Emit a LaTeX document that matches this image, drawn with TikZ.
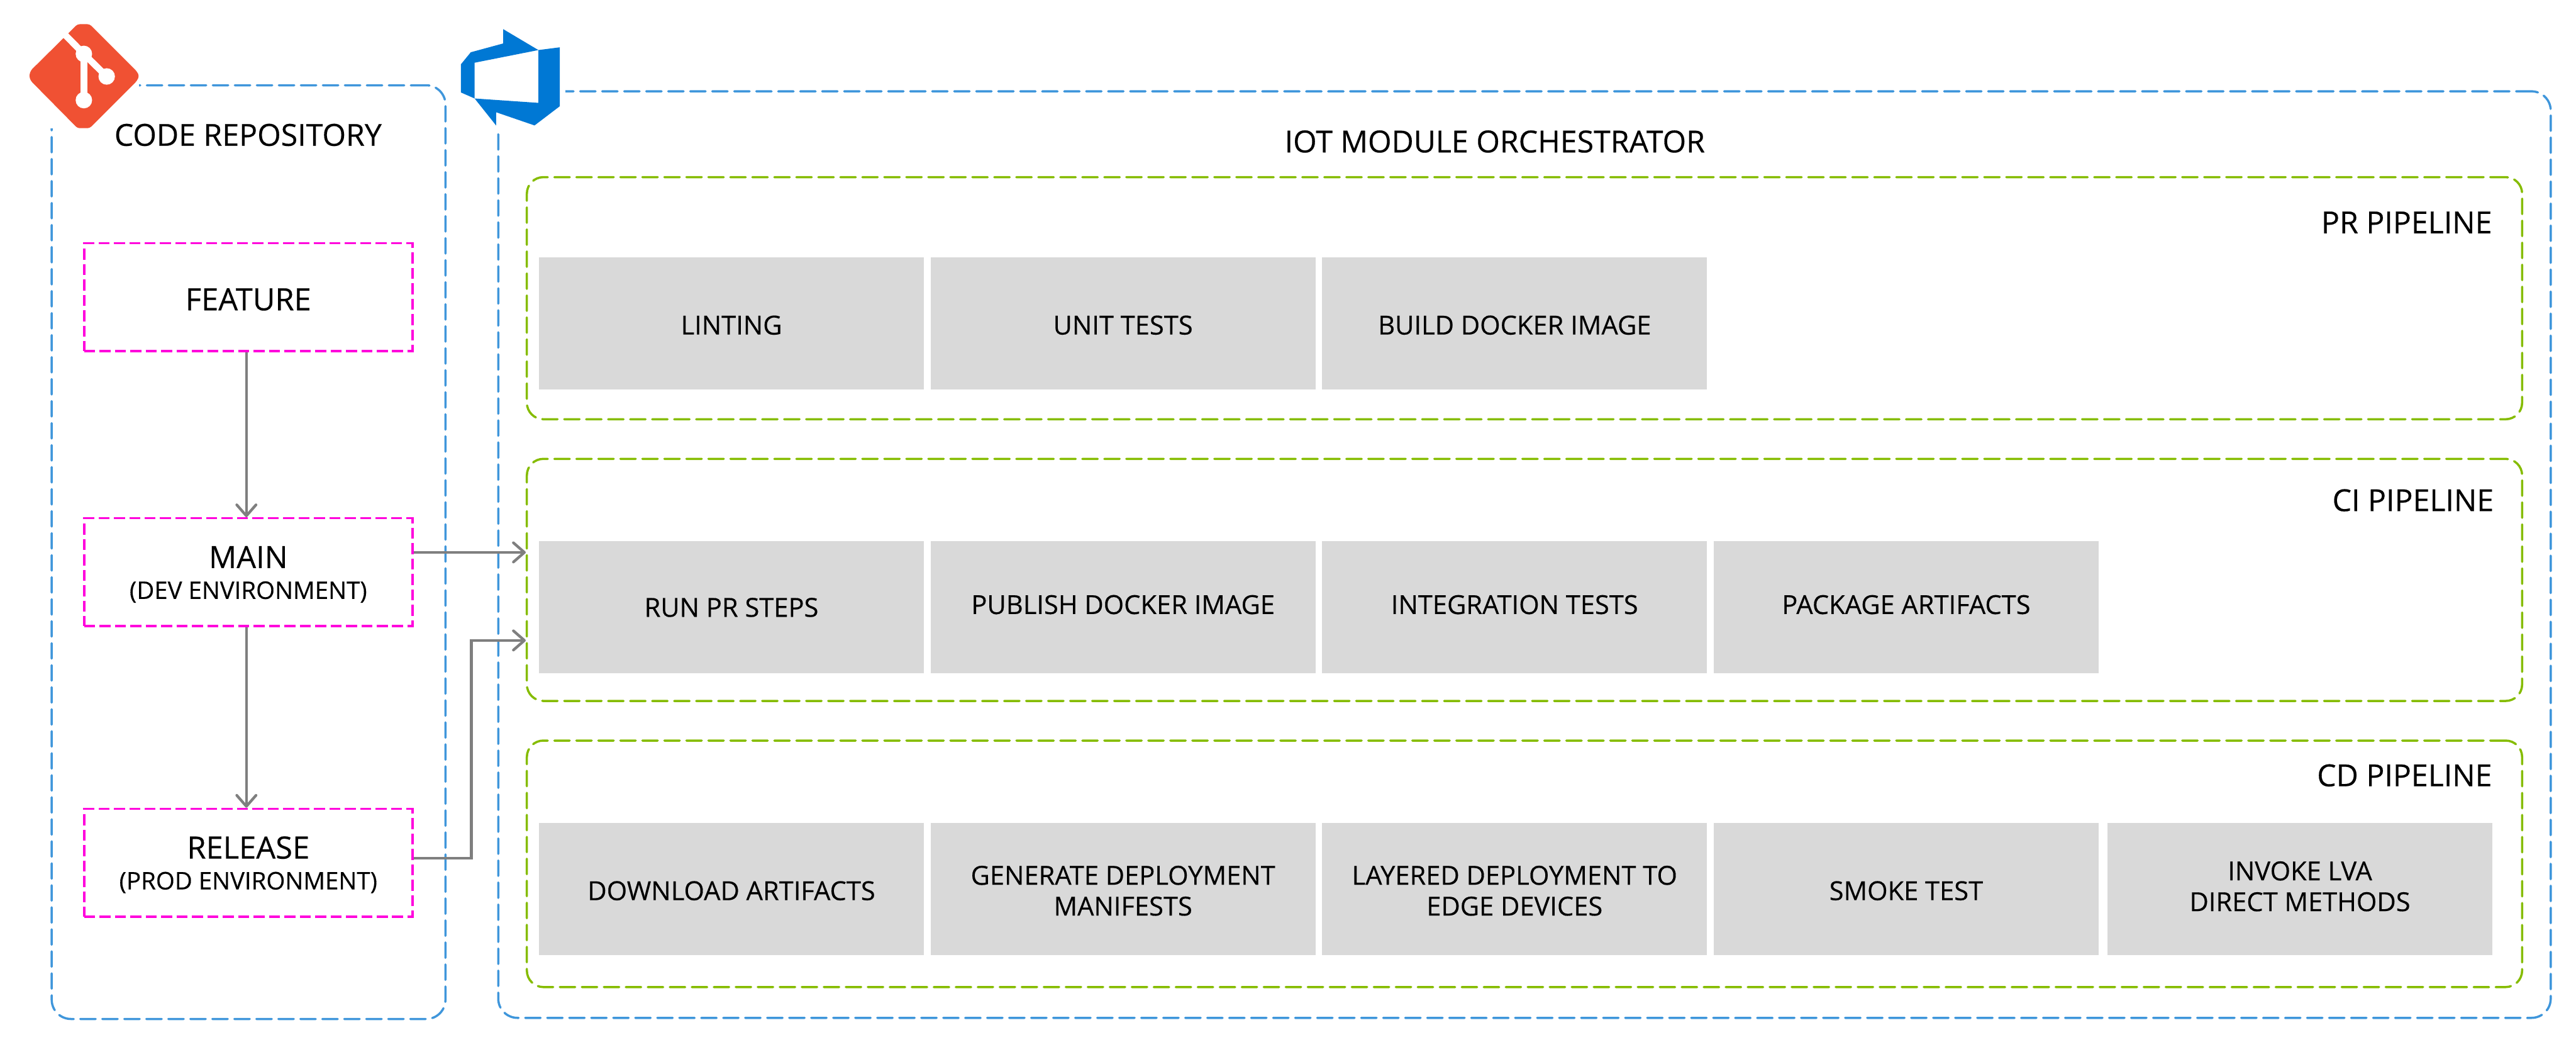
\documentclass[tikz,border=0pt]{standalone}
\usepackage{fontspec}
\setmainfont{Open Sans}[FakeBold=0.35]
\usetikzlibrary{arrows.meta, positioning}
\newcommand{\subtxt}{\fontsize{12.5}{15.93}\selectfont}
\definecolor{cblue}{HTML}{3F96DB}
\definecolor{cgreen}{HTML}{85BC00}
\definecolor{cpink}{HTML}{FF00DC}
\definecolor{cpanel}{HTML}{D9D9D9}
\definecolor{carrow}{HTML}{7F7F7F}
\definecolor{cgit}{HTML}{F05133}
\definecolor{cazure}{HTML}{0078D4}

\begin{document}
\begin{tikzpicture}[
  lane/.style={draw=cblue, line width=1.14pt, line cap=round, rounded corners=3.5mm,
               dash pattern=on 2.8mm off 1.2mm, inner sep=0pt},
  pipe/.style={draw=cgreen, line width=1.14pt, line cap=round, rounded corners=3mm,
               dash pattern=on 2.8mm off 1.2mm, inner sep=0pt, minimum width=36.28cm},
  branch/.style={draw=cpink, line width=1.14pt, dash pattern=on 2mm off 0.8mm, align=center,
                 inner sep=0pt, minimum width=5.97cm, minimum height=1.96cm, text=black,
                 text height=0.97cm, text depth=0cm,
                 font=\fontsize{15.9}{15.93}\selectfont},
  stage/.style={fill=cpanel, text=black, align=center, inner sep=0pt,
                minimum width=7cm, minimum height=2.4cm,
                font=\fontsize{13.55}{15.93}\selectfont},
  low/.style={text height=0.40cm, text depth=0cm},
  high/.style={text height=0.34cm, text depth=0.10cm},
  ttl/.style={text=black, inner sep=0pt, font=\fontsize{15.7}{19}\selectfont},
  flow/.style={-{Straight Barb[round, length=2mm, width=3.5mm]}, draw=carrow, line width=1.4pt}
]
\useasboundingbox (0,0) rectangle (46.84,-19.12);

\node[lane, minimum width=7.16cm, minimum height=16.97cm]  (repo) at (4.52,-10.035) {};
\node[lane, minimum width=37.32cm, minimum height=16.84cm] (orch) at (27.72,-10.08) {};

% logos sit on white, over the corners of the two frames
\fill[white] (0.53,-0.44) rectangle (2.53,-2.33);
\fill[white] (8.38,-0.53) rectangle (10.28,-2.38);
\fill[cgit, rounded corners=0.4mm] (1.41,-0.44) -- (1.63,-0.44) -- (2.49,-1.30) -- (2.53,-1.38)
  -- (2.49,-1.47) -- (1.63,-2.33) -- (1.41,-2.33) -- (0.56,-1.47) -- (0.53,-1.38) -- (0.56,-1.28) -- cycle;
\draw[white, line width=1.2mm] (1.15,-0.60) -- (1.525,-0.98) -- (1.94,-1.39);
\draw[white, line width=1.2mm] (1.525,-0.98) -- (1.525,-1.82);
\fill[white] (1.525,-0.98) circle (1.5mm) (1.94,-1.39) circle (1.5mm) (1.525,-1.82) circle (1.5mm);
\fill[cazure, even odd rule] (9.15,-0.53) -- (9.79,-0.91) -- (10.18,-0.86) -- (10.18,-1.93) -- (9.72,-2.28)
  -- (9.02,-2.04) -- (9.02,-2.28) -- (8.63,-1.79) -- (8.38,-1.68) -- (8.38,-1.17) -- (8.56,-0.95) -- (9.15,-0.79) -- cycle
  (8.63,-1.14) -- (9.79,-0.91) -- (9.79,-1.87) -- (8.63,-1.79) -- cycle;

\node[ttl, anchor=base] (repottl) at (4.51,-2.65) {CODE REPOSITORY};
\node[ttl, anchor=base] (orchttl) at (27.18,-2.77) {IOT MODULE ORCHESTRATOR};

\node[branch, text height=0.48cm] (feature) at (4.515,-5.40)  {FEATURE};
\node[branch] (main)    at (4.515,-10.40) {MAIN\\\subtxt (DEV ENVIRONMENT)};
\node[branch] (release) at (4.515,-15.68) {RELEASE\\\subtxt (PROD ENVIRONMENT)};

\node[pipe, minimum height=4.40cm] (pr) at (27.72,-5.42)  {};
\node[pipe, minimum height=4.40cm] (ci) at (27.72,-10.54) {};
\node[pipe, minimum height=4.48cm] (cd) at (27.72,-15.70) {};

\node[ttl, anchor=base east] (prttl) at (45.32,-4.24)  {PR PIPELINE};
\node[ttl, anchor=base east] (cittl) at (45.35,-9.29)  {CI PIPELINE};
\node[ttl, anchor=base east] (cdttl) at (45.32,-14.29) {CD PIPELINE};

\node[stage, low] (lint)  at (13.30,-5.88) {LINTING};
\node[stage, low] (unit)  at (20.42,-5.88) {UNIT TESTS};
\node[stage, low] (build) at (27.54,-5.88) {BUILD DOCKER IMAGE};

\node[stage]       (runpr)   at (13.30,-11.04) {RUN PR STEPS};
\node[stage, high] (publish) at (20.42,-11.04) {PUBLISH DOCKER IMAGE};
\node[stage, high] (integ)   at (27.54,-11.04) {INTEGRATION TESTS};
\node[stage, high] (package) at (34.66,-11.04) {PACKAGE ARTIFACTS};

\node[stage, low] (download) at (13.30,-16.16) {DOWNLOAD ARTIFACTS};
\node[stage, text height=0.96cm, text depth=0cm] (manifest) at (20.42,-16.16) {GENERATE DEPLOYMENT\\MANIFESTS};
\node[stage, text height=0.96cm, text depth=0cm] (layered)  at (27.54,-16.16) {LAYERED DEPLOYMENT TO\\EDGE DEVICES};
\node[stage, low] (smoke)    at (34.66,-16.16) {SMOKE TEST};
\node[stage, text height=0.90cm, text depth=0.10cm] (invoke)   at (41.82,-16.16) {INVOKE LVA\\DIRECT METHODS};

\coordinate (mainout) at ([yshift=3.6mm]main.east);
\coordinate (relout)  at ([yshift=0.8mm]release.east);
\coordinate (ciin)    at ([yshift=-11mm]ci.west);
\draw[flow] ([xshift=-0.35mm]feature.south) -- ([xshift=-0.35mm]main.north);
\draw[flow] ([xshift=-0.35mm]main.south)    -- ([xshift=-0.35mm]release.north);
\draw[flow] (mainout) -- (mainout -| ci.west);
\draw[flow] (relout) -- ++(1.05,0) |- (ciin);
\end{tikzpicture}
\end{document}
